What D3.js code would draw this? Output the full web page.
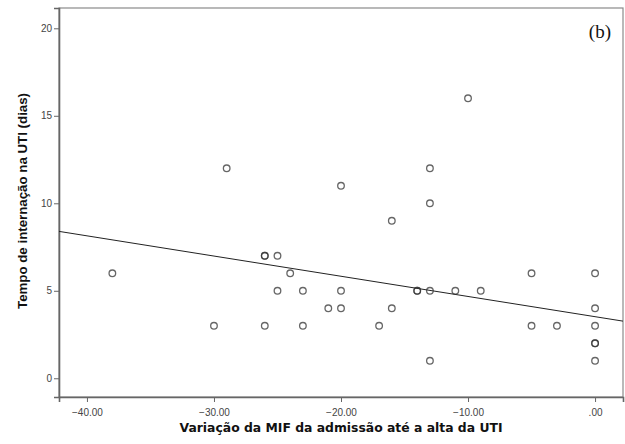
<!DOCTYPE html>
<html>
<head>
<meta charset="utf-8">
<script src="https://cdn.jsdelivr.net/npm/d3@7"></script>
<style>
  body { margin: 0; background: #fff; }
  .tick text { font-family: Arial, "Liberation Sans", sans-serif; font-size: 10px; fill: #444; }
  .axisLabel { font-family: Arial, "Liberation Sans", sans-serif; font-weight: bold; fill: #111; }
</style>
</head>
<body>
<div class="chart"></div>
<script>
// data
var mifChange = [-38, -30, -29, -26, -26, -26, -25, -25, -24, -23, -23, -21, -20, -20, -20, -17, -16, -16,
                 -14, -14, -13, -13, -13, -13, -11, -10, -9, -5, -5, -3, 0, 0, 0, 0, 0, 0];
var icuDays   = [6, 3, 12, 7, 7, 3, 7, 5, 6, 5, 3, 4, 11, 5, 4, 3, 9, 4,
                 5, 5, 12, 10, 5, 1, 5, 16, 5, 6, 3, 3, 6, 4, 3, 2, 2, 1];
var xTicks = [-40, -30, -20, -10, 0];
var yTicks = [0, 5, 10, 15, 20];
// fit line (intercept, slope) as drawn
var fitIntercept = 3.52;
var fitSlope = -0.1155;

var svgWidth = 625;
var svgHeight = 444;
var margin = { top: 8, right: 2, bottom: 47, left: 59 };
var width = svgWidth - margin.left - margin.right;
var height = svgHeight - margin.top - margin.bottom;

var svg = d3.select(".chart")
  .append("svg")
  .attr("width", svgWidth)
  .attr("height", svgHeight);

var chartGroup = svg.append("g")
  .attr("transform", `translate(${margin.left}, ${margin.top})`);

var xScale = d3.scaleLinear()
  .domain([-42.2, 2.2])
  .range([0, width]);

var yScale = d3.scaleLinear()
  .domain([-1.07, 21.16])
  .range([height, 0]);

// frame
chartGroup.append("rect")
  .attr("x", 0).attr("y", 0)
  .attr("width", width).attr("height", height)
  .attr("fill", "none")
  .attr("stroke", "#8a8a8a")
  .attr("stroke-width", 1.2);

var bottomAxis = d3.axisBottom(xScale)
  .tickValues(xTicks)
  .tickSize(5)
  .tickFormat(d => d === 0 ? ".00" : d3.format(".2f")(d));
var leftAxis = d3.axisLeft(yScale)
  .tickValues(yTicks)
  .tickSize(5)
  .tickFormat(d3.format("d"));

var xg = chartGroup.append("g")
  .attr("transform", `translate(0, ${height})`)
  .call(bottomAxis);
var yg = chartGroup.append("g")
  .call(leftAxis);

[xg, yg].forEach(function(g) {
  g.select(".domain").attr("stroke", "#666").attr("stroke-width", 1.6);
  g.selectAll(".tick line").attr("stroke", "#666");
});
xg.selectAll(".tick text").attr("dy", "1.05em");
yg.selectAll(".tick text").attr("x", -7);

// regression line
var xd = xScale.domain();
chartGroup.append("line")
  .attr("x1", xScale(xd[0]))
  .attr("y1", yScale(fitIntercept + fitSlope * xd[0]))
  .attr("x2", xScale(xd[1]))
  .attr("y2", yScale(fitIntercept + fitSlope * xd[1]))
  .attr("stroke", "#222")
  .attr("stroke-width", 1);

// points
var points = mifChange.map((x, i) => ({ x: x, y: icuDays[i] }));
chartGroup.selectAll("circle")
  .data(points)
  .enter()
  .append("circle")
  .attr("cx", d => xScale(d.x))
  .attr("cy", d => yScale(d.y))
  .attr("r", 3.3)
  .attr("fill", "none")
  .attr("stroke", "#333")
  .attr("stroke-opacity", 0.75)
  .attr("stroke-width", 1.3);

// panel tag
chartGroup.append("text")
  .attr("x", 552)
  .attr("y", 30)
  .attr("text-anchor", "end")
  .style("font-family", "'Liberation Serif', serif")
  .style("font-size", "19px")
  .attr("fill", "#111")
  .text("(b)");

// axis labels
svg.append("text")
  .attr("class", "axisLabel")
  .attr("transform", `translate(27, 201) rotate(-90)`)
  .attr("text-anchor", "middle")
  .style("font-size", "12px")
  .attr("textLength", 216)
  .attr("lengthAdjust", "spacingAndGlyphs")
  .text("Tempo de internação na UTI (dias)");

svg.append("text")
  .attr("class", "axisLabel")
  .attr("x", 341)
  .attr("y", 432)
  .attr("text-anchor", "middle")
  .style("font-family", "'DejaVu Sans', sans-serif")
  .style("font-size", "12px")
  .attr("textLength", 323)
  .attr("lengthAdjust", "spacingAndGlyphs")
  .text("Variação da MIF da admissão até a alta da UTI");
</script>
</body>
</html>
